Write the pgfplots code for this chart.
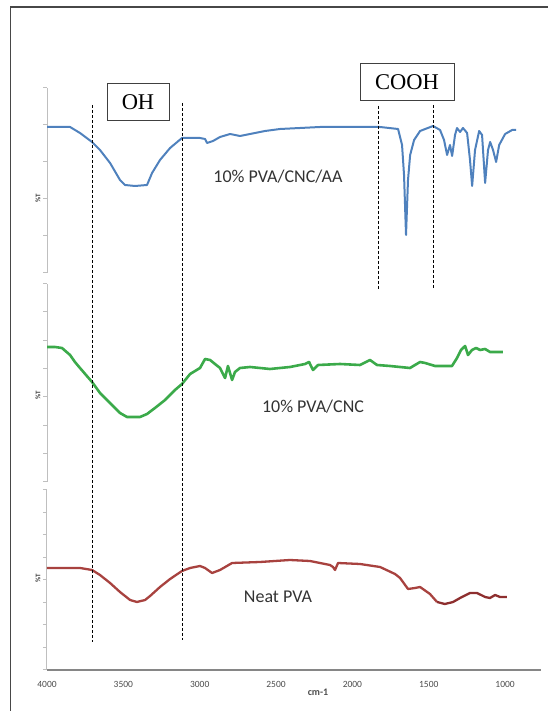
\documentclass[border=0pt]{standalone}
\usepackage{pgfplots}
\pgfplotsset{compat=1.18}
\usepackage{fontspec}
\setmainfont{Carlito}
\newfontfamily\seriffont{Liberation Serif}
\definecolor{bl}{HTML}{4F81BD}
\definecolor{gr}{HTML}{3BAA4A}
\definecolor{rd}{HTML}{A8423F}
\definecolor{rdd}{HTML}{8E2F2F}
\definecolor{axg}{HTML}{BFBFBF}
\definecolor{axd}{HTML}{868686}
\begin{document}
\begin{tikzpicture}
\pgfplotsset{
 panel/.style={scale only axis, width=494pt, xmin=-4000, xmax=-765,
   x filter/.code={\pgfmathparse{-\pgfmathresult}},
   axis x line*=bottom, axis y line*=left,
   x axis line style={draw=none}, xtick=\empty,
   y axis line style={draw=axg, line width=1pt},
   ytick style={draw=axg, line width=1pt},
   major tick length=4pt, tick align=outside, yticklabels={},
   clip=false, anchor=south west},
}
% panel 1 : 10% PVA/CNC/AA
\begin{axis}[panel, at={(47pt,438pt)}, height=185pt, ymin=438, ymax=623,
  ytick={438,475,512,549,586,623}]
\addplot[bl, line width=2pt, line join=round] coordinates {
(4000,584)(3915,584)(3849,584)(3784,578)(3705,569)(3653,561)(3587,548)(3522,531)
(3489,526)(3424,525)(3345,526)(3312,538)(3260,551)(3194,563)(3116,573)(2998,573)
(2965,572)(2952,568)(2913,570)(2867,574)(2801,577)(2736,575)(2670,577)(2572,580)
(2474,582)(2343,583)(2212,584)(2081,584)(1950,584)(1819,584)(1701,582)(1675,566)
(1662,536)(1649,476)(1636,531)(1622,556)(1596,571)(1557,580)(1472,585)(1426,581)
(1400,571)(1380,556)(1361,566)(1347,555)(1328,576)(1315,583)(1295,579)(1276,583)
(1249,578)(1230,551)(1216,525)(1197,561)(1170,580)(1151,576)(1131,528)(1112,561)
(1098,569)(1079,561)(1059,549)(1039,566)(1000,577)(954,581)(928,581)};
\end{axis}
% panel 2 : 10% PVA/CNC
\begin{axis}[panel, at={(47pt,229pt)}, height=198pt, ymin=229, ymax=427,
  ytick={229,257,285,314,342,370,399,427}]
\addplot[gr, line width=2.6pt, line join=round] coordinates {
(4000,364)(3948,364)(3902,363)(3849,356)(3817,349)(3784,343)(3705,329)(3653,318)
(3587,308)(3522,298)(3476,294)(3391,294)(3345,297)(3293,303)(3227,311)(3162,321)
(3116,327)(3063,337)(2998,343)(2965,352)(2932,351)(2900,347)(2867,343)(2834,333)
(2815,345)(2788,331)(2769,339)(2736,343)(2670,344)(2540,342)(2409,344)(2310,347)
(2284,349)(2258,341)(2225,346)(2081,347)(1950,346)(1885,351)(1839,346)(1754,345)
(1623,343)(1557,349)(1524,348)(1459,345)(1348,345)(1315,353)(1289,361)(1262,365)
(1243,356)(1217,361)(1190,363)(1164,361)(1131,362)(1099,359)(1014,359)};
\end{axis}
% panel 3 : Neat PVA
\begin{axis}[panel, at={(47pt,41pt)}, height=180pt, ymin=41, ymax=221,
  ytick={41,63.5,86,108.5,131,153.5,176,198.5,221},
  x axis line style={draw=axd, line width=1.8pt},
  xtick={-4000,-3500,-3000,-2500,-2000,-1500,-1000},
  xticklabels={4000,3500,3000,2500,2000,1500,1000},
  xtick style={draw=none},
  xticklabel style={font=\fontsize{9.5}{9.5}\selectfont, text=black!70, yshift=-4pt}]
\addplot[rd, line width=2.3pt, line join=round] coordinates {
(4000,143)(3915,143)(3784,143)(3705,141)(3653,136)(3587,128)(3522,119)(3456,111)
(3411,109)(3358,111)(3325,115)(3260,124)(3194,132)(3116,140)(3063,143)(2998,145)
(2965,143)(2919,138)(2867,141)(2788,148)(2605,149)(2409,151)(2278,150)(2212,148)
(2147,146)(2127,144)(2114,141)(2094,148)(1950,147)(1819,144)(1721,137)(1688,133)
(1636,122)(1590,123)(1557,124)(1492,117)(1446,109)};
\addplot[rdd, line width=2.3pt, line join=round] coordinates {
(1446,109)(1394,107)(1341,109)(1295,113)(1230,118)(1184,118)(1131,114)(1099,113)
(1066,116)(1033,114)(988,114)};
\end{axis}
\begin{scope}[x=1pt,y=1pt]
% frame
\draw[line width=1.5pt, black!72] (10.5,-10) -- (10.5,704) -- (570,704);
% y titles
\foreach \yy in {513,316,133}
  \node[rotate=90, font=\fontsize{7}{7}\selectfont\bfseries, text=black!75] at (38,\yy) {\%T};
% x title
\node[font=\fontsize{10}{10}\selectfont\bfseries, text=black!70] at (318,19) {cm-1};
% series names
\node[font=\fontsize{18}{18}\selectfont, text=black!80] at (278,534) {10\% PVA/CNC/AA};
\node[font=\fontsize{18}{18}\selectfont, text=black!80] at (313,304) {10\% PVA/CNC};
\node[font=\fontsize{18}{18}\selectfont, text=black!80] at (278,114) {Neat PVA};
% boxes
\node[draw=black!75, line width=1pt, minimum width=62pt, minimum height=37pt, inner sep=0pt,
  font=\seriffont\fontsize{22.5}{22.5}\selectfont] at (138,608.5) {OH};
\node[draw=black!75, line width=1pt, minimum width=94pt, minimum height=37pt, inner sep=0pt,
  font=\seriffont\fontsize{22.5}{22.5}\selectfont] at (407,628.5) {COOH};
% dashed guide lines
\begin{scope}[dash pattern=on 3pt off 2pt, line width=0.9pt]
\draw (92,606) -- (92,69);
\draw (182,608) -- (182,71);
\draw (378,605) -- (378,421);
\draw (433,606) -- (433,422);
\end{scope}
\pgfresetboundingbox
\path[use as bounding box] (0,0) rectangle (547,711);
\end{scope}
\end{tikzpicture}
\end{document}
